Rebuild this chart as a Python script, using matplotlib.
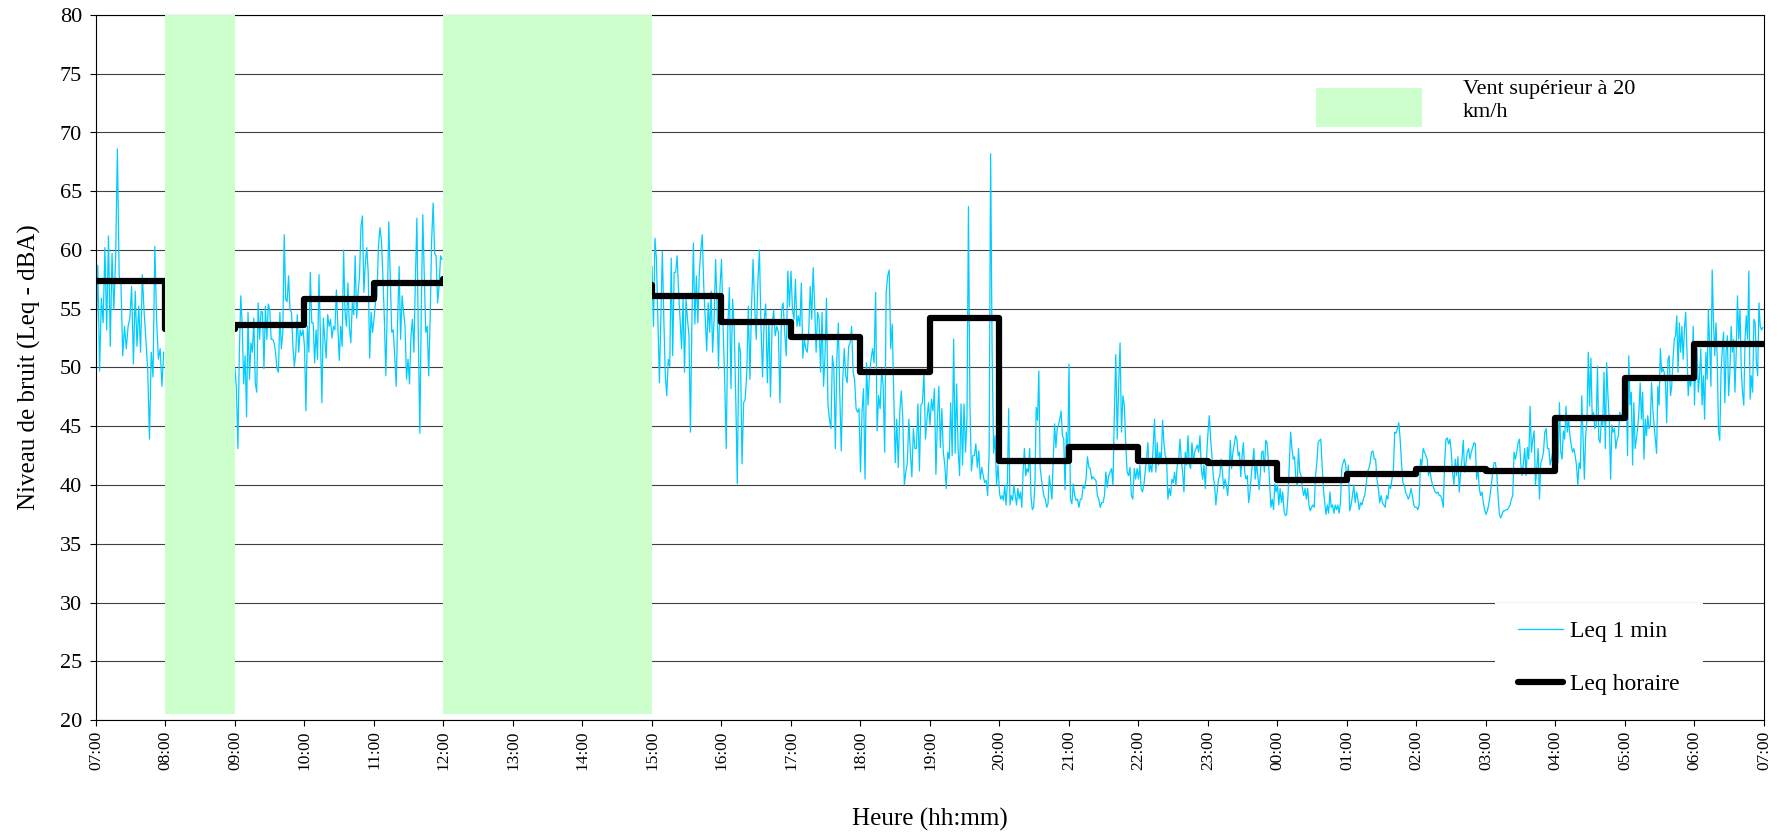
import numpy as np
import matplotlib.pyplot as plt
from matplotlib.patches import Rectangle
from matplotlib.lines import Line2D

plt.rcParams['font.family'] = ['Liberation Serif', 'DejaVu Serif']

# x axis: hours elapsed since 07:00
hour_labels = ["07:00", "08:00", "09:00", "10:00", "11:00", "12:00", "13:00",
               "14:00", "15:00", "16:00", "17:00", "18:00", "19:00", "20:00",
               "21:00", "22:00", "23:00", "00:00", "01:00", "02:00", "03:00",
               "04:00", "05:00", "06:00", "07:00"]

# periods with wind above 20 km/h (start hour, duration)
wind_start = [1, 5]
wind_hours = [1, 3]

# hourly Leq (dBA), one value per hour from 07:00; 13:00-14:00 not shown
hourly_leq = [57.4, 53.3, 53.6, 55.8, 57.2, 57.5, np.nan, 57.0, 56.1, 53.9,
              52.6, 49.6, 54.2, 42.0, 43.2, 42.0, 41.9, 40.4, 40.9, 41.4,
              41.2, 45.7, 49.1, 52.0]

# 1-minute Leq, one list per hour
leq_0700 = [51.8, 58.7, 49.7, 55.9, 53.8, 60.2, 53.2, 61.2, 51.8, 59.7, 54.9, 59.2,
            68.6, 57.8, 57.2, 51.0, 53.5, 51.6, 53.5, 54.2, 56.9, 50.3, 56.5, 51.8,
            55.2, 51.3, 57.9, 54.7, 52.4, 49.9, 43.9, 51.3, 49.2, 60.3, 54.1, 50.7,
            51.6, 48.4, 51.3]
leq_0900 = [49.9, 48.2, 43.1, 51.3, 56.1, 53.5, 48.6, 51.0, 45.8, 54.7, 49.0, 52.1,
            51.3, 54.2, 48.7, 47.9, 55.5, 52.4, 54.8, 54.7, 49.9, 55.2, 52.4, 55.4,
            54.9, 52.4, 52.4, 52.1, 51.3, 49.9, 49.6, 54.7, 51.6, 53.0, 61.3, 55.8,
            55.6, 57.8, 54.9, 54.7, 51.8, 50.1, 51.3, 54.5, 51.3, 53.2, 52.7, 53.2]
leq_1000 = [51.8, 46.3, 53.5, 51.3, 58.1, 53.8, 53.8, 50.4, 53.2, 50.7, 57.9, 52.7,
            47.0, 54.2, 52.4, 50.8, 54.5, 53.5, 54.1, 52.5, 53.5, 53.2, 56.6, 53.5,
            50.6, 53.5, 51.8, 60.0, 54.7, 53.5, 57.2, 53.4, 52.1, 55.5, 54.5, 59.5,
            54.2, 56.4, 57.8, 62.0, 62.9, 56.4, 58.9, 60.2, 58.1, 50.8, 54.7, 53.0]
leq_1100 = [54.1, 55.6, 56.1, 60.3, 61.9, 60.9, 57.8, 54.1, 49.3, 55.2, 62.4, 57.8,
            53.0, 53.2, 51.0, 48.4, 54.1, 58.6, 52.4, 56.1, 54.7, 53.5, 49.0, 50.7,
            48.6, 52.7, 54.1, 51.3, 57.5, 62.7, 52.4, 44.4, 55.2, 63.0, 57.8, 53.0,
            53.5, 49.3, 54.4, 60.9, 64.0, 59.7, 59.5, 55.5, 56.9, 59.5, 59.2]
leq_1500 = [58.6, 53.5, 61.0, 59.2, 54.1, 48.7, 54.1, 59.9, 54.1, 49.3, 47.6, 50.7,
            50.1, 59.3, 51.0, 58.1, 58.1, 59.5, 56.4, 54.1, 51.6, 55.8, 49.6, 55.8,
            54.1, 52.7, 44.5, 54.1, 60.6, 53.7, 57.8, 53.8, 58.1, 60.0, 61.3, 56.9,
            54.1, 51.4, 55.5, 53.0, 56.5, 51.3, 54.1, 59.2, 55.2, 49.9, 56.9]
leq_1600 = [59.2, 53.5, 49.0, 43.1, 53.5, 56.8, 48.2, 55.8, 53.5, 47.6, 40.1, 52.1,
            51.3, 41.8, 47.0, 47.3, 49.6, 55.2, 49.0, 55.2, 59.2, 55.2, 52.4, 57.2,
            60.0, 53.5, 49.2, 54.1, 55.4, 48.7, 54.1, 47.5, 53.5, 54.9, 52.7, 53.5,
            53.0, 47.0, 54.9, 55.5, 53.0, 51.0, 58.2, 55.2]
leq_1700 = [58.2, 54.9, 54.1, 57.5, 53.5, 54.4, 53.5, 57.2, 50.8, 52.4, 51.6, 51.3,
            53.0, 56.9, 54.1, 58.5, 55.2, 51.3, 54.7, 54.1, 49.6, 54.7, 48.4, 51.0,
            55.9, 46.8, 45.6, 44.8, 51.0, 49.9, 43.1, 50.7, 53.8, 47.6, 42.9, 49.0,
            51.6, 49.3, 48.7, 51.8, 52.1, 53.5, 49.6, 49.0, 46.5, 46.2, 46.5]
leq_1800 = [41.1, 46.2, 48.2, 40.5, 50.4, 46.8, 49.6, 50.7, 51.6, 50.4, 56.4, 44.6,
            47.6, 46.5, 49.9, 48.4, 42.8, 56.4, 57.8, 58.3, 51.6, 53.7, 47.9, 41.9,
            45.6, 41.5, 46.2, 48.0, 45.6, 40.0, 41.1, 41.9, 45.6, 42.8, 40.7, 44.8,
            43.1, 43.1, 46.9, 41.2, 46.8, 47.0, 49.6, 43.9, 45.6, 47.0]
leq_1900 = [45.1, 47.3, 46.3, 48.2, 40.9, 45.6, 48.4, 43.2, 46.5, 42.8, 41.7, 39.7,
            42.8, 42.2, 47.0, 42.5, 52.4, 42.7, 48.6, 43.1, 40.8, 46.9, 41.7, 46.9,
            42.8, 45.6, 63.7, 46.8, 41.2, 42.5, 42.5, 43.5, 41.5, 42.9, 40.5, 41.5,
            40.8, 40.2, 40.4, 39.1, 42.8, 68.2, 51.3, 42.7, 44.2, 40.0, 41.7]
leq_2000 = [39.3, 38.8, 39.1, 38.7, 40.0, 38.3, 40.1, 46.5, 38.3, 39.1, 38.7, 40.0,
            39.1, 38.3, 39.7, 38.8, 39.4, 38.1, 41.1, 43.1, 40.8, 41.4, 41.1, 43.1,
            39.1, 37.9, 38.1, 40.0, 46.6, 45.5, 49.7, 41.5, 40.5, 39.7, 39.0, 38.8,
            38.1, 38.4, 40.8, 39.8, 38.8, 42.2, 45.2, 43.2, 44.8, 45.1, 45.6, 46.3,
            44.2, 43.9, 39.6, 44.5, 41.9]
leq_2100 = [50.3, 38.8, 38.4, 40.1, 39.1, 38.7, 38.8, 38.1, 38.8, 38.8, 40.0, 39.7,
            40.5, 42.4, 41.5, 41.4, 40.5, 40.7, 40.5, 40.4, 39.1, 38.8, 38.1, 38.5,
            38.5, 39.1, 41.1, 39.8, 40.8, 41.1, 41.4, 40.0, 46.2, 51.1, 43.9, 48.4,
            52.1, 44.5, 47.6, 46.8, 43.4, 41.1, 40.8, 41.5, 39.1, 38.8, 41.4, 40.5,
            41.4]
leq_2200 = [40.5, 41.7, 39.7, 39.4, 40.0, 41.1, 42.2, 43.6, 41.1, 41.7, 41.1, 43.4,
            45.6, 41.1, 43.6, 41.7, 42.8, 41.9, 45.5, 43.6, 42.5, 42.2, 38.8, 39.7,
            39.1, 40.5, 40.2, 41.1, 40.0, 41.7, 41.9, 43.9, 42.2, 41.1, 39.4, 42.8,
            41.7, 44.2, 41.7, 41.4, 43.6, 41.9, 42.8, 43.1, 43.4, 42.8, 44.2, 41.4,
            40.5, 41.7, 39.7, 42.5]
leq_2300 = [44.5, 45.9, 43.9, 42.5, 40.8, 40.0, 38.3, 39.4, 40.5, 40.8, 42.2, 41.1,
            39.7, 40.5, 40.0, 39.1, 40.5, 43.8, 41.4, 42.8, 43.4, 44.2, 43.9, 42.5,
            42.8, 40.7, 42.5, 43.6, 41.1, 40.5, 40.8, 38.5, 39.4, 40.8, 41.9, 43.1,
            40.5, 41.9, 40.7, 39.6, 41.1, 42.8, 42.9, 41.1, 43.8, 43.6, 42.2, 40.2,
            38.1, 38.8, 37.9, 40.1, 39.4]
leq_0000 = [40.0, 38.3, 39.7, 38.5, 39.4, 37.8, 37.4, 37.5, 39.1, 41.9, 44.5, 43.1,
            42.2, 42.4, 40.5, 40.0, 43.1, 41.1, 40.8, 39.7, 39.1, 39.7, 38.8, 39.7,
            38.3, 37.8, 38.1, 38.3, 38.1, 40.8, 41.9, 43.6, 43.8, 43.9, 41.7, 39.7,
            38.5, 37.5, 38.3, 37.6, 39.4, 38.1, 38.3, 37.6, 38.3, 37.9, 38.3, 37.6,
            38.5, 41.4, 41.9, 42.2, 41.7]
leq_0100 = [40.5, 41.7, 37.8, 38.3, 39.1, 40.0, 38.5, 39.4, 38.8, 37.9, 38.5, 38.3,
            38.8, 39.1, 40.0, 41.1, 41.4, 41.9, 42.8, 42.9, 42.2, 42.2, 40.5, 39.7,
            38.5, 39.1, 38.5, 38.3, 38.1, 39.1, 38.8, 40.0, 39.7, 40.5, 41.1, 44.5,
            44.4, 44.8, 45.3, 43.9, 41.9, 40.2, 40.0, 39.4, 39.1, 38.8, 39.1, 39.7,
            39.1, 38.3, 38.1]
leq_0200 = [38.1, 37.9, 38.3, 42.2, 41.7, 43.1, 42.8, 42.5, 42.2, 40.8, 41.4, 40.5,
            40.0, 39.7, 39.4, 39.3, 39.4, 39.1, 39.1, 38.8, 38.1, 41.7, 43.9, 44.0,
            43.5, 43.9, 42.8, 41.1, 40.0, 42.2, 40.8, 42.4, 39.4, 41.1, 42.2, 43.8,
            41.1, 41.9, 42.8, 43.1, 42.2, 42.8, 43.2, 43.6, 43.5, 40.5, 41.4, 39.7,
            39.1, 39.4, 38.5, 37.9]
leq_0300 = [37.5, 37.8, 38.3, 39.1, 40.0, 41.1, 41.9, 41.9, 41.1, 39.1, 37.5, 37.2,
            37.5, 37.8, 37.8, 37.9, 37.9, 38.1, 38.3, 38.8, 39.1, 42.8, 42.2, 42.8,
            43.6, 43.9, 41.9, 40.8, 41.9, 43.1, 40.8, 43.2, 42.2, 46.7, 42.8, 43.9,
            44.6, 40.0, 41.4, 43.1, 38.8, 41.9, 42.2, 42.8, 44.5, 44.8, 43.1, 43.1,
            41.7, 42.2, 42.8, 41.9]
leq_0400 = [41.1, 42.8, 41.9, 47.0, 42.8, 42.2, 44.6, 43.9, 46.7, 44.5, 45.6, 44.2,
            43.4, 42.8, 43.1, 42.5, 41.7, 40.0, 41.9, 41.4, 47.6, 43.9, 40.5, 44.2,
            45.6, 51.3, 46.7, 50.8, 45.6, 46.2, 44.8, 45.1, 50.1, 43.9, 43.6, 45.5,
            45.1, 49.6, 43.1, 50.4, 47.6, 45.6, 40.5, 45.1, 44.5, 44.8, 43.1, 43.9,
            44.2, 46.2, 45.6, 46.2, 49.0]
leq_0500 = [47.6, 48.4, 42.5, 51.0, 46.8, 47.9, 41.7, 47.0, 43.1, 43.9, 44.8, 46.2,
            48.7, 45.6, 47.9, 42.2, 45.6, 44.2, 45.9, 44.8, 45.1, 48.7, 46.5, 45.1,
            43.9, 42.7, 48.4, 46.8, 51.6, 49.6, 49.9, 49.6, 48.7, 45.3, 50.7, 51.0,
            47.6, 48.4, 50.7, 52.4, 52.7, 54.4, 49.6, 53.8, 51.3, 53.5, 50.7, 53.2,
            54.7, 51.6, 47.6, 49.0, 48.4, 49.6, 53.5]
leq_0600 = [46.8, 51.3, 51.6, 47.9, 49.3, 51.6, 46.8, 49.3, 45.6, 51.3, 49.0, 54.9,
            51.8, 48.4, 58.3, 54.1, 51.0, 53.8, 50.7, 44.5, 43.8, 49.6, 51.6, 53.0,
            47.0, 51.3, 52.7, 47.6, 49.6, 53.5, 51.3, 52.4, 47.9, 51.3, 56.1, 52.4,
            54.9, 49.9, 47.9, 46.8, 52.4, 54.4, 52.4, 58.2, 47.3, 49.3, 47.9, 54.1,
            53.8, 50.4, 49.3, 55.5, 53.5, 53.2, 53.4]

segments = [(0, leq_0700), (2, leq_0900), (3, leq_1000), (4, leq_1100),
            (8, leq_1500), (9, leq_1600), (10, leq_1700), (11, leq_1800),
            (12, leq_1900), (13, leq_2000), (14, leq_2100), (15, leq_2200),
            (16, leq_2300), (17, leq_0000), (18, leq_0100), (19, leq_0200),
            (20, leq_0300), (21, leq_0400), (22, leq_0500), (23, leq_0600)]

# spread each hour's readings over the hour, break the line across gaps
minute_x, minute_y = [], []
prev_end = None
for start, vals in segments:
    if prev_end is not None and start != prev_end:
        minute_x.append(np.nan)
        minute_y.append(np.nan)
    n = len(vals)
    minute_x.extend(start + np.arange(n) / n)
    minute_y.extend(vals)
    prev_end = start + 1

fig, ax = plt.subplots(figsize=(17.9, 8.38), dpi=100)
fig.subplots_adjust(left=96/1790, right=1764/1790, bottom=118/838, top=823/838)

ax.plot(minute_x, minute_y, color="#00CCFF", lw=0.9, zorder=2)
ax.plot(np.arange(25), hourly_leq + [hourly_leq[-1]], drawstyle="steps-post",
        color="black", lw=4.5, solid_joinstyle="round", zorder=3)

# wind bars sit on top of the noise curves
ax.bar(wind_start, 59.5, bottom=20.5, width=wind_hours, align="edge",
       color="#CCFFCC", zorder=4)

ax.set_xlim(0, 24)
ax.set_ylim(20, 80)
ax.set_xticks(np.arange(25))
ax.set_xticklabels(hour_labels, rotation=90)
ax.set_yticks(np.arange(20, 81, 5))
ax.tick_params(axis="both", direction="out", length=4, width=0.8)
ax.tick_params(axis="y", labelsize=16, pad=6)
ax.tick_params(axis="x", labelsize=12.5)
ax.yaxis.grid(True, color="#404040", lw=0.8)
ax.set_axisbelow(True)
for sp in ax.spines.values():
    sp.set_linewidth(0.8)

ax.set_ylabel("Niveau de bruit (Leq - dBA)", fontsize=18)
ax.set_xlabel("Heure (hh:mm)", fontsize=18)
ax.yaxis.set_label_coords(-0.033, 0.5)
ax.xaxis.set_label_coords(0.5, -0.125)

# wind legend, top right
ax.add_patch(Rectangle((0.7314, 0.8411), 0.0636, 0.0553, transform=ax.transAxes,
                       facecolor="#CCFFCC", edgecolor="none", zorder=5))
ax.text(0.8196, 0.9078, "Vent supérieur à 20\nkm/h", transform=ax.transAxes,
        fontsize=16, va="top", ha="left", linespacing=1.25, zorder=5)

# line legend on a white box, bottom right
ax.add_patch(Rectangle((0.8387, 0.034), 0.1247, 0.132, transform=ax.transAxes,
                       facecolor="white", edgecolor="none", zorder=5))
handles = [Line2D([], [], color="#00CCFF", lw=0.9),
           Line2D([], [], color="black", lw=4.5, solid_capstyle="round")]
leg = ax.legend(handles, ["Leq 1 min", "Leq horaire"], loc="center",
                bbox_to_anchor=(0.901, 0.088), frameon=False, fontsize=17,
                handlelength=1.9, handletextpad=0.3, labelspacing=1.33)
leg.set_zorder(6)

plt.savefig("out.png", dpi=100)
